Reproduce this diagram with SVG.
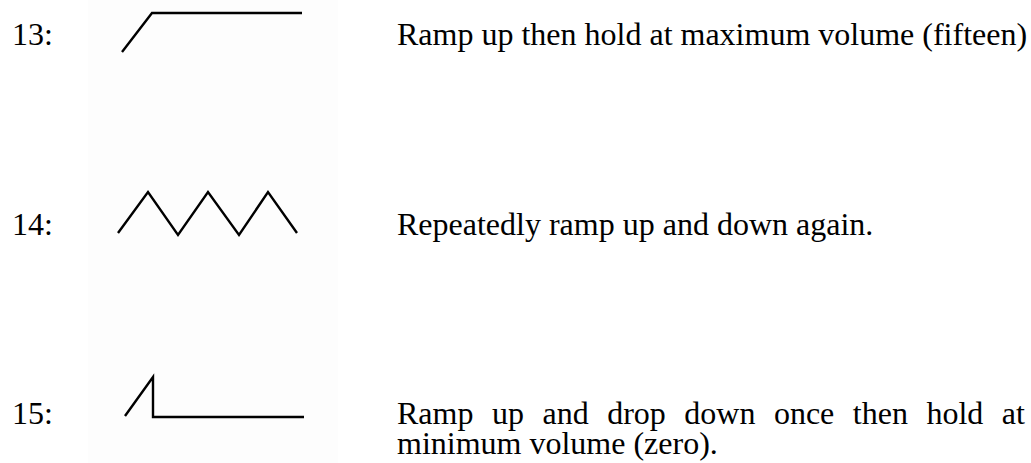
<svg xmlns="http://www.w3.org/2000/svg" width="1031" height="463" viewBox="0 0 1031 463">
<style>
text{font-family:"Liberation Serif","Times New Roman",serif;font-size:32px;fill:#000}
.w{fill:none;stroke:#000;stroke-width:2.4;stroke-linejoin:miter;stroke-linecap:butt}
</style>
<rect x="0" y="0" width="1031" height="463" fill="#fff"/>
<rect x="88" y="0" width="250" height="463" fill="#fdfdfd"/>
<g id="row13">
<text x="12" y="45">13:</text>
<polyline class="w" points="122,52 152,13 302,13"/>
<text x="397" y="45">Ramp up then hold at maximum volume (fifteen)</text>
</g>
<g id="row14">
<text x="12" y="235">14:</text>
<polyline class="w" points="118,233 148,192 178,235 208,192 239,235 268,192 297,233"/>
<text x="397" y="235">Repeatedly ramp up and down again.</text>
</g>
<g id="row15">
<text x="12" y="424">15:</text>
<polyline class="w" points="125,416 153,377 153,417 304,417"/>
<text x="397" y="424" word-spacing="10.5">Ramp up and drop down once then hold at</text>
<text x="397" y="454">minimum volume (zero).</text>
</g>
<g id="connectors"/>
</svg>
